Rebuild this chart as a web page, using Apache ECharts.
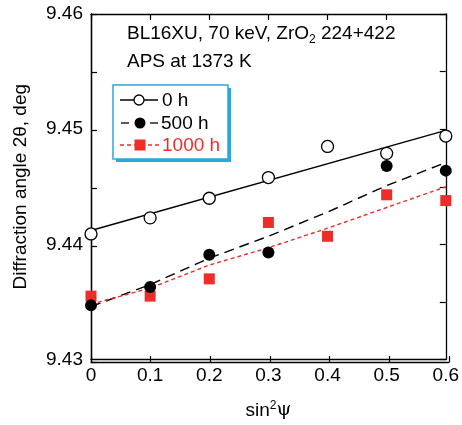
<!DOCTYPE html>
<html>
<head>
<meta charset="utf-8">
<script src="https://cdn.jsdelivr.net/npm/echarts@6/dist/echarts.min.js"></script>
<style>
  html, body { margin: 0; padding: 0; background: #fff; }
  #chart { width: 462px; height: 425px; }
</style>
</head>
<body>
<div id="chart"></div>
<script>
// sin^2(psi) positions
const sin2psi = [0, 0.1, 0.2, 0.3, 0.4, 0.5, 0.6];

// Measured diffraction angle 2θ (deg)
const h0 = [9.4409, 9.4423, 9.4440, 9.4458, 9.4485, 9.4479, 9.4494];
const h500 = [9.4347, 9.4363, 9.4391, 9.4393, null, 9.4468, 9.4464];
const h1000 = [9.4355, 9.4355, 9.4370, 9.4419, 9.4407, 9.4443, 9.4438];

// Trend lines through each data set
const fitH0X = [0, 0.6];
const fitH0 = [9.4412, 9.4499];
const fitH500 = [9.4346, 9.4365, 9.4388, 9.4407, 9.4428, 9.4451, 9.4471];
const fitH1000 = [9.4348, 9.4362, 9.4382, 9.4397, 9.4414, 9.4432, 9.4450];

// Axis ranges (y ticks every 0.005, labels every 0.01)
const xMin = 0, xMax = 0.6, xStep = 0.1;
const yMin = 9.43, yMax = 9.46, yStep = 0.005;

const pairs = (xs, ys) => xs.map((x, i) => [x, ys[i]]).filter(p => p[1] !== null);

const FONT = 'Liberation Sans, Arial, Helvetica, sans-serif';
const FS = 19;
const RED = '#ee2d2a';
const BLUE = '#2aa7df';

const chart = echarts.init(document.getElementById('chart'), null, { renderer: 'canvas' });

const gridBox = { left: 91, right: 13, top: 14, bottom: 63, containLabel: false };
const axisLine = () => ({ show: true, onZero: false, lineStyle: { color: '#000', width: 1.3 } });
const inTick = () => ({ show: true, inside: true, length: 6, lineStyle: { color: '#000', width: 1.2 } });
const yLabel = v => {
  const c = v * 100;
  return Math.abs(c - Math.round(c)) < 1e-6 ? v.toFixed(2) : '';
};
// unlabeled frame axis carrying only inward ticks
const tickAxis = (gridIndex, position, min, max, interval) => ({
  type: 'value', gridIndex, position, min, max, interval,
  axisLine: axisLine(), axisTick: inTick(), axisLabel: { show: false }, splitLine: { show: false }
});

const option = {
  animation: false,
  backgroundColor: '#fff',
  // grid 0 holds the data and labels, grid 1 (same box) carries the bottom/left tick marks
  grid: [Object.assign({}, gridBox), Object.assign({}, gridBox)],
  xAxis: [
    {
      type: 'value', gridIndex: 0, position: 'bottom', min: xMin, max: xMax, interval: xStep,
      axisLine: axisLine(), axisTick: { show: false }, splitLine: { show: false },
      axisLabel: { color: '#000', fontFamily: FONT, fontSize: FS, margin: 7,
        formatter: v => (Math.round(v * 10) / 10).toString() },
      name: '{a|sin}{s|2}{p|ψ}', nameLocation: 'middle', nameGap: 40,
      nameTextStyle: {
        rich: {
          a: { fontFamily: FONT, fontSize: FS, color: '#000' },
          s: { fontFamily: FONT, fontSize: 12, color: '#000', verticalAlign: 'top', padding: [0, 0, 10, 0] },
          p: { fontFamily: 'DejaVu Serif, serif', fontSize: FS, color: '#000' }
        }
      }
    },
    tickAxis(0, 'top', xMin, xMax, xStep),
    tickAxis(1, 'bottom', xMin, xMax, xStep)
  ],
  yAxis: [
    {
      type: 'value', gridIndex: 0, position: 'left', min: yMin, max: yMax, interval: yStep,
      axisLine: axisLine(), axisTick: { show: false }, splitLine: { show: false },
      axisLabel: { color: '#000', fontFamily: FONT, fontSize: FS, margin: 8, formatter: yLabel },
      name: 'Diffraction angle 2θ, deg', nameLocation: 'middle', nameGap: 61, nameRotate: 90,
      nameTextStyle: { color: '#000', fontFamily: FONT, fontSize: FS }
    },
    tickAxis(0, 'right', yMin, yMax, yStep),
    tickAxis(1, 'left', yMin, yMax, yStep)
  ],
  series: [
    { name: 'fit0', type: 'line', data: pairs(fitH0X, fitH0), symbol: 'none', z: 2,
      lineStyle: { color: '#000', width: 1.4 } },
    { name: 'fit500', type: 'line', data: pairs(sin2psi, fitH500), symbol: 'none', z: 2,
      lineStyle: { color: '#000', width: 1.4, type: [10, 6] } },
    { name: 'fit1000', type: 'line', data: pairs(sin2psi, fitH1000), symbol: 'none', z: 2,
      lineStyle: { color: RED, width: 1.4, type: [4, 3] } },
    { name: '0 h', type: 'scatter', data: pairs(sin2psi, h0), symbol: 'circle', symbolSize: 12, z: 4,
      itemStyle: { color: '#fff', borderColor: '#000', borderWidth: 1.3, opacity: 1 } },
    { name: '500 h', type: 'scatter', data: pairs(sin2psi, h500), symbol: 'circle', symbolSize: 12, z: 4,
      itemStyle: { color: '#000', opacity: 1 } },
    { name: '1000 h', type: 'scatter', data: pairs(sin2psi, h1000), symbol: 'rect', symbolSize: 11, z: 3,
      itemStyle: { color: RED, opacity: 1 } }
  ],
  graphic: [
    // annotation
    { type: 'text', left: 127, top: 24, style: {
        text: '{a|BL16XU, 70 keV, ZrO}{s|2}{a| 224+422}',
        rich: {
          a: { fontFamily: FONT, fontSize: FS, fill: '#000' },
          s: { fontFamily: FONT, fontSize: 12, fill: '#000', padding: [12, 0, 0, 0] }
        } } },
    { type: 'text', left: 127, top: 52, style: { text: 'APS at 1373 K', font: FS + 'px ' + FONT, fill: '#000' } },
    // legend box with shadow edge
    { type: 'rect', shape: { x: 116, y: 88, width: 115, height: 74 }, style: { fill: BLUE }, z: 10 },
    { type: 'rect', shape: { x: 113, y: 85, width: 115, height: 74 }, style: { fill: '#fff', stroke: BLUE, lineWidth: 1.5 }, z: 11 },
    // 0 h
    { type: 'line', shape: { x1: 120, y1: 100, x2: 158, y2: 100 }, style: { stroke: '#000', lineWidth: 1.3 }, z: 12 },
    { type: 'circle', shape: { cx: 139, cy: 100, r: 5 }, style: { fill: '#fff', stroke: '#000', lineWidth: 1.3 }, z: 13 },
    { type: 'text', left: 162, top: 91, style: { text: '0 h', font: FS + 'px ' + FONT, fill: '#000' }, z: 13 },
    // 500 h
    { type: 'line', shape: { x1: 121, y1: 123, x2: 129, y2: 123 }, style: { stroke: '#000', lineWidth: 1.3 }, z: 12 },
    { type: 'line', shape: { x1: 150, y1: 123, x2: 158, y2: 123 }, style: { stroke: '#000', lineWidth: 1.3 }, z: 12 },
    { type: 'circle', shape: { cx: 140, cy: 123, r: 5.5 }, style: { fill: '#000' }, z: 13 },
    { type: 'text', left: 161, top: 114, style: { text: '500 h', font: FS + 'px ' + FONT, fill: '#000' }, z: 13 },
    // 1000 h
    { type: 'line', shape: { x1: 120, y1: 145, x2: 161, y2: 145 }, style: { stroke: RED, lineWidth: 1.3, lineDash: [4, 3] }, z: 12 },
    { type: 'rect', shape: { x: 134.5, y: 139.5, width: 11, height: 11 }, style: { fill: RED }, z: 13 },
    { type: 'text', left: 162, top: 136, style: { text: '1000 h', font: FS + 'px ' + FONT, fill: RED }, z: 13 }
  ]
};

chart.setOption(option);
</script>
</body>
</html>
